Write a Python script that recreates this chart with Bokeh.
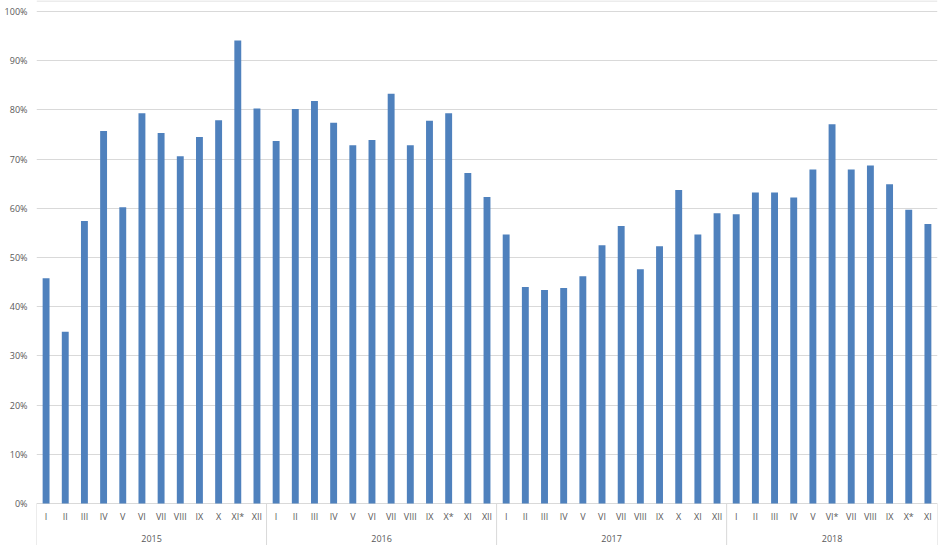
from bokeh.plotting import figure
from bokeh.models import Range1d, FixedTicker, PrintfTickFormatter, ColumnDataSource
from bokeh.core.properties import value
from bokeh.embed import file_html
from bokeh.resources import INLINE

years = ["2015", "2016", "2017", "2018"]
months_2015 = ["I", "II", "III", "IV", "V", "VI", "VII", "VIII", "IX", "X", "XI*", "XII"]
months_2016 = ["I", "II", "III", "IV", "V", "VI", "VII", "VIII", "IX", "X*", "XI", "XII"]
months_2017 = ["I", "II", "III", "IV", "V", "VI", "VII", "VIII", "IX", "X", "XI", "XII"]
months_2018 = ["I", "II", "III", "IV", "V", "VI*", "VII", "VIII", "IX", "X*", "XI"]

vals_2015 = [45.8, 34.9, 57.4, 75.7, 60.2, 79.3, 75.3, 70.6, 74.5, 77.9, 94.1, 80.3]
vals_2016 = [73.7, 80.2, 81.8, 77.4, 72.8, 73.9, 83.3, 72.8, 77.8, 79.3, 67.2, 62.3]
vals_2017 = [54.7, 44.0, 43.4, 43.8, 46.2, 52.5, 56.4, 47.6, 52.3, 63.7, 54.7, 59.0]
vals_2018 = [58.8, 63.2, 63.2, 62.2, 67.9, 77.1, 67.9, 68.7, 64.9, 59.7, 56.8]

y_ticks = [0, 10, 20, 30, 40, 50, 60, 70, 80, 90, 100]

groups = [(years[0], months_2015, vals_2015), (years[1], months_2016, vals_2016),
          (years[2], months_2017, vals_2017), (years[3], months_2018, vals_2018)]

xs, labels, vals = [], [], []
year_x, bounds = [], [0.5]
i = 0
for yr, ms, vs in groups:
    start = i + 1
    for m, v in zip(ms, vs):
        i += 1
        xs.append(i)
        labels.append(m)
        vals.append(v)
    year_x.append((start + i) / 2)
    bounds.append(i + 0.5)

n = len(xs)
GRID = "#d9d9d9"
TXT = "#595959"
FONT = "Open Sans"
Y0, Y1 = -8.54, 102.24

p = figure(width=945, height=545, x_range=Range1d(0.5, n + 0.5), y_range=Range1d(Y0, Y1),
           x_axis_location=None, toolbar_location=None, output_backend="svg",
           min_border_left=36, min_border_right=8, min_border_top=0, min_border_bottom=0)
p.outline_line_color = None
p.xgrid.visible = False
p.ygrid.grid_line_color = GRID
p.ygrid.grid_line_width = 1

ax = p.yaxis[0]
ax.ticker = FixedTicker(ticks=y_ticks)
ax.formatter = PrintfTickFormatter(format="%d%%")
ax.axis_line_color = None
ax.major_tick_line_color = None
ax.major_tick_out = 0
ax.major_tick_in = 0
ax.minor_tick_line_color = None
ax.major_label_standoff = 9
ax.major_label_text_font = FONT
ax.major_label_text_font_size = "9px"
ax.major_label_text_color = TXT

src = ColumnDataSource(dict(x=xs, top=vals))
p.vbar(x="x", top="top", width=0.36, bottom=0, source=src, fill_color="#4f81bd", line_color=None)

# category separators below the axis
p.segment(x0=bounds, y0=[0] * len(bounds), x1=bounds, y1=[Y0] * len(bounds),
          line_color=GRID, line_width=1)
# top border
p.segment(x0=[0.5], y0=[Y1 - 0.1], x1=[n + 0.5], y1=[Y1 - 0.1], line_color=GRID, line_width=1)

# month labels
p.text(x=xs, y=[-2.7] * n, text=labels, text_align="center", text_baseline="middle",
       text_font=value(FONT), text_font_size="9px", text_color=TXT)
# year labels
p.text(x=year_x, y=[-7.2] * len(year_x), text=years, text_align="center", text_baseline="alphabetic",
       text_font=value(FONT), text_font_size="9px", text_color=TXT)

open("out.html", "w").write(file_html(p, INLINE))
